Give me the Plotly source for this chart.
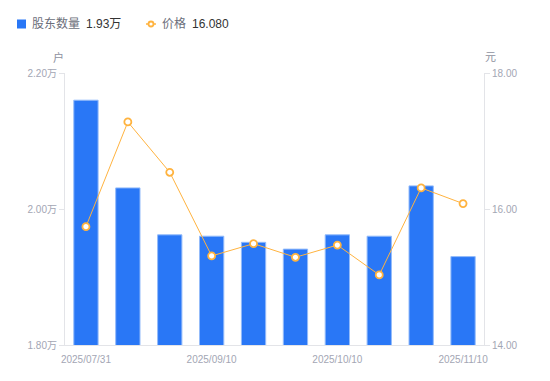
import plotly.graph_objects as go

dates = ["2025/07/31", "2025/08/20", "2025/08/31", "2025/09/10", "2025/09/19",
         "2025/09/30", "2025/10/10", "2025/10/20", "2025/10/31", "2025/11/10"]
holders_wan = [2.160, 2.031, 1.962, 1.960, 1.951, 1.941, 1.962, 1.960, 2.034, 1.930]
price = [15.74, 17.28, 16.54, 15.31, 15.49, 15.29, 15.47, 15.03, 16.31, 16.08]
tick_dates = ["2025/07/31", "2025/09/10", "2025/10/10", "2025/11/10"]
left_ticks = [1.80, 2.00, 2.20]
right_ticks = [14.00, 16.00, 18.00]

BAR = "#2977F6"
BAR_EDGE = "#93BBFA"
ORANGE = "#FFB33F"
AXIS = "#E3E4E8"
TICK_TXT = "#A3A6B4"
FONT = "Liberation Sans, Arial, Noto Sans CJK SC, sans-serif"

# page body offset of the plot div
OX, OY = 8, 8
W, H = 550 - OX, 381 - OY
# plot area in window pixels: x 65..484, y 73..345
L, R, T, B = 65 - OX, 550 - 484, 73 - OY, 381 - 345
PW, PH = W - L - R, H - T - B


def px(x):
    return (x - OX - L) / PW


def py(y):
    return (H - B - (y - OY)) / PH


xs = list(range(len(dates)))

fig = go.Figure()
fig.add_trace(go.Bar(
    x=xs, y=holders_wan, name="股东数量", width=0.58,
    marker=dict(color=BAR, line=dict(color=BAR_EDGE, width=1)),
    yaxis="y", showlegend=False,
))
fig.add_trace(go.Scatter(
    x=xs, y=price, name="价格", mode="lines+markers",
    line=dict(color=ORANGE, width=1),
    marker=dict(symbol="circle", size=7, color="white",
                line=dict(color=ORANGE, width=1.8)),
    yaxis="y2", showlegend=False,
))

fig.update_layout(
    width=W, height=H,
    margin=dict(l=L, r=R, t=T, b=B, pad=0),
    paper_bgcolor="white", plot_bgcolor="white",
    font=dict(family=FONT, size=10, color=TICK_TXT),
    xaxis=dict(
        type="linear", range=[-0.5, len(dates) - 0.5],
        tickvals=[dates.index(d) for d in tick_dates], ticktext=tick_dates,
        showgrid=False, zeroline=False, showline=True, linecolor=AXIS, linewidth=1,
        ticks="outside", ticklen=5, tickcolor="rgba(0,0,0,0)",
        tickfont=dict(size=10, color=TICK_TXT, family=FONT),
    ),
    yaxis=dict(
        range=[1.80, 2.20], tickvals=left_ticks,
        ticktext=[f"{v:.2f}万" for v in left_ticks],
        showgrid=False, zeroline=False, showline=True, linecolor=AXIS, linewidth=1,
        ticks="outside", ticklen=5, tickcolor=AXIS, tickwidth=1,
        tickfont=dict(size=10, color=TICK_TXT, family=FONT),
    ),
    yaxis2=dict(
        range=[14, 18], tickvals=right_ticks,
        ticktext=[f"{v:.2f}" for v in right_ticks],
        overlaying="y", side="right",
        showgrid=False, zeroline=False, showline=True, linecolor=AXIS, linewidth=1,
        ticks="outside", ticklen=5, tickcolor=AXIS, tickwidth=1,
        tickfont=dict(size=10, color=TICK_TXT, family=FONT),
    ),
)

# axis unit labels
fig.add_annotation(x=px(58.5), y=py(57), xref="paper", yref="paper", text="户",
                   showarrow=False, font=dict(size=11, color="#8E91A0", family=FONT),
                   xanchor="center", yanchor="middle")
fig.add_annotation(x=px(490), y=py(57), xref="paper", yref="paper", text="元",
                   showarrow=False, font=dict(size=11, color="#8E91A0", family=FONT),
                   xanchor="center", yanchor="middle")

# custom legend
LY = 24
fig.add_shape(type="rect", xref="paper", yref="paper",
              x0=px(17), x1=px(26), y0=py(LY - 4.5), y1=py(LY + 4.5),
              fillcolor=BAR, line=dict(width=0))
fig.add_shape(type="line", xref="paper", yref="paper",
              x0=px(146), x1=px(156), y0=py(LY), y1=py(LY),
              line=dict(color=ORANGE, width=1.5))
fig.add_shape(type="circle", xref="paper", yref="paper",
              x0=px(148.5), x1=px(153.5), y0=py(LY - 2.5), y1=py(LY + 2.5),
              fillcolor="white", line=dict(color=ORANGE, width=1.8))

legend_txt = [
    (31, "股东数量", "#6B6E7A"),
    (84.5, f"{holders_wan[-1]:.2f}万", "#333333"),
    (160.5, "价格", "#6B6E7A"),
    (190.5, f"{price[-1]:.3f}", "#333333"),
]
for x0, txt, col in legend_txt:
    fig.add_annotation(x=px(x0), y=py(LY), xref="paper", yref="paper", text=txt,
                       showarrow=False, xanchor="left", yanchor="middle",
                       font=dict(size=12, color=col, family=FONT), borderpad=0)

fig.write_html("out.html")
